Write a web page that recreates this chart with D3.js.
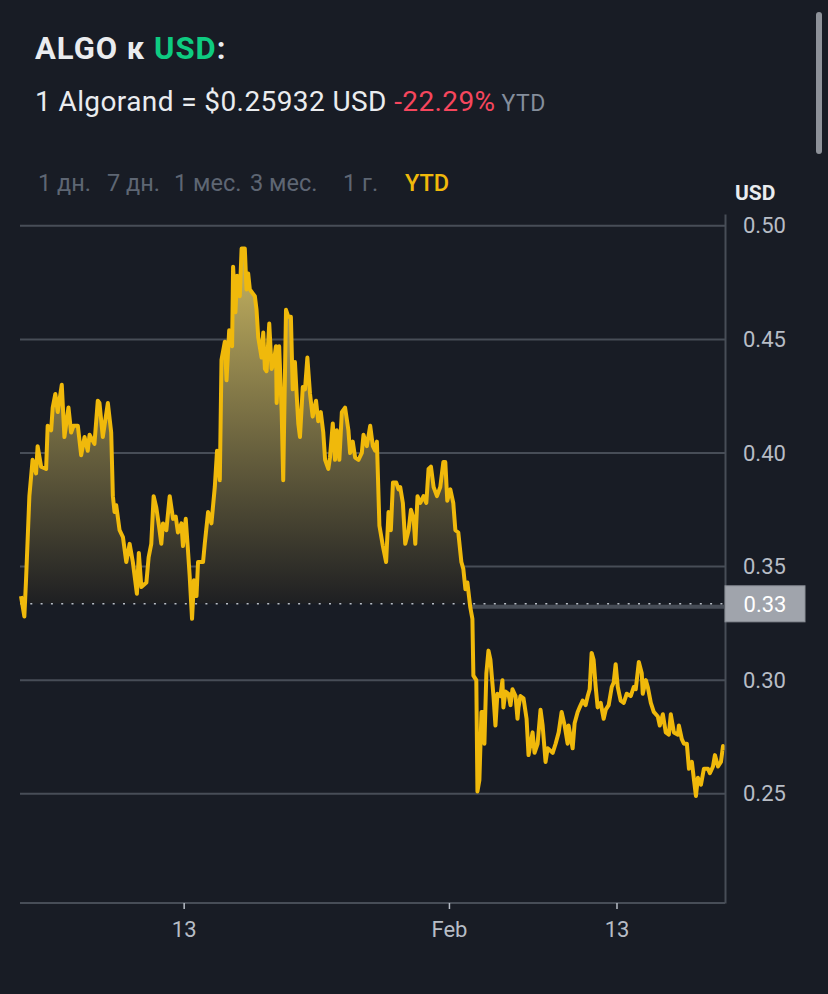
<!DOCTYPE html>
<html lang="ru">
<head>
	<meta charset="utf-8">
	<title>ALGO к USD</title>
	<script src="https://cdn.jsdelivr.net/npm/d3@7/dist/d3.min.js"></script>
	<style>
		html, body { margin: 0; padding: 0; background: #181c25; }
		svg { display: block; font-family: Roboto, "Noto Sans", sans-serif; }
	</style>
</head>
<body>
<div id="chart"></div>
<script type="text/javascript">

	// ---- data ----
	// days since 1 Jan 2025 (UTC)
	var dayOffsets = [0.35,0.59,0.71,0.95,1.18,1.43,1.54,1.79,2.15,2.26,2.51,2.62,2.81,2.98,3.27,3.46,3.75,3.94,4.11,4.42,4.66,4.90,5.13,5.26,5.61,5.85,5.97,6.21,6.57,6.81,6.93,7.05,7.17,7.41,7.65,7.89,8.13,8.36,8.65,8.79,8.97,9.33,9.49,9.68,9.85,10.04,10.23,10.40,10.52,10.76,11.00,11.24,11.43,11.59,11.84,11.95,12.15,12.31,12.43,12.60,12.74,12.92,13.03,13.39,13.51,13.75,13.99,14.23,14.39,14.59,14.71,14.95,15.07,15.26,15.47,15.54,15.71,15.83,16.02,16.15,16.38,16.50,16.62,16.74,16.86,17.10,17.22,17.34,17.58,17.70,17.82,17.94,18.13,18.30,18.46,18.61,18.66,18.84,19.02,19.13,19.33,19.49,19.68,19.81,19.97,20.09,20.21,20.33,20.53,20.69,20.86,21.05,21.24,21.48,21.64,21.82,22.00,22.13,22.36,22.48,22.68,22.84,22.97,23.15,23.33,23.56,23.80,23.92,24.11,24.28,24.52,24.76,24.88,25.12,25.36,25.55,25.72,25.84,26.02,26.27,26.50,26.67,26.84,26.99,27.22,27.39,27.51,27.70,27.87,28.11,28.28,28.47,28.59,28.75,28.95,29.18,29.38,29.54,29.71,29.90,30.14,30.38,30.60,30.74,30.88,31.10,31.31,31.46,31.67,31.89,32.03,32.18,32.32,32.53,32.68,32.75,32.96,33.04,33.18,33.33,33.47,33.54,33.68,33.83,33.97,34.19,34.33,34.47,34.69,34.83,34.90,35.05,35.26,35.41,35.55,35.77,35.91,35.98,36.12,36.34,36.56,36.70,36.99,37.13,37.35,37.56,37.71,37.92,38.07,38.43,38.64,38.86,39.07,39.29,39.50,39.57,39.86,40.00,40.22,40.36,40.58,40.79,40.94,41.08,41.22,41.36,41.51,41.65,41.87,42.08,42.23,42.44,42.66,42.80,42.94,43.09,43.30,43.52,43.73,44.02,44.24,44.38,44.60,44.81,44.88,45.10,45.24,45.46,45.67,45.96,46.10,46.32,46.53,46.75,46.89,47.11,47.40,47.47,47.68,47.83,48.04,48.19,48.40,48.55,48.69,48.83,49.05,49.26,49.55,49.69,49.91,50.05,50.27,50.48,50.63,50.70];

	// ALGO price in USD
	var prices = [0.337,0.328,0.344,0.381,0.397,0.391,0.403,0.394,0.393,0.412,0.410,0.420,0.426,0.418,0.430,0.407,0.420,0.409,0.412,0.412,0.399,0.407,0.401,0.408,0.404,0.423,0.422,0.407,0.422,0.409,0.381,0.374,0.377,0.366,0.363,0.352,0.360,0.352,0.338,0.356,0.341,0.343,0.354,0.360,0.381,0.376,0.368,0.360,0.369,0.366,0.381,0.371,0.372,0.365,0.369,0.359,0.371,0.357,0.346,0.327,0.344,0.337,0.352,0.352,0.360,0.374,0.369,0.385,0.401,0.388,0.441,0.449,0.432,0.454,0.447,0.482,0.462,0.478,0.469,0.490,0.490,0.472,0.479,0.472,0.471,0.469,0.463,0.451,0.442,0.453,0.437,0.436,0.457,0.437,0.440,0.447,0.422,0.447,0.418,0.388,0.463,0.460,0.460,0.428,0.440,0.426,0.413,0.407,0.429,0.428,0.442,0.426,0.416,0.423,0.414,0.418,0.409,0.397,0.393,0.398,0.413,0.397,0.410,0.397,0.418,0.420,0.410,0.400,0.405,0.398,0.397,0.400,0.408,0.403,0.412,0.403,0.401,0.405,0.368,0.359,0.352,0.374,0.366,0.387,0.387,0.384,0.385,0.378,0.360,0.366,0.375,0.371,0.360,0.381,0.378,0.381,0.378,0.393,0.394,0.385,0.381,0.385,0.396,0.396,0.379,0.384,0.378,0.366,0.365,0.352,0.349,0.340,0.343,0.332,0.327,0.302,0.300,0.251,0.256,0.286,0.286,0.272,0.303,0.313,0.309,0.293,0.280,0.294,0.293,0.300,0.288,0.295,0.294,0.289,0.296,0.293,0.283,0.288,0.293,0.292,0.283,0.267,0.277,0.268,0.272,0.287,0.280,0.264,0.270,0.268,0.272,0.277,0.286,0.280,0.272,0.280,0.270,0.281,0.286,0.288,0.291,0.289,0.293,0.296,0.312,0.309,0.297,0.288,0.290,0.283,0.287,0.289,0.297,0.299,0.307,0.297,0.291,0.290,0.294,0.293,0.297,0.296,0.308,0.303,0.294,0.300,0.297,0.290,0.286,0.284,0.280,0.285,0.277,0.276,0.285,0.277,0.276,0.280,0.274,0.272,0.272,0.261,0.264,0.256,0.249,0.257,0.254,0.261,0.261,0.259,0.262,0.267,0.262,0.264,0.271,0.269];

	// opening price of the year (dotted reference line)
	var openPrice = 0.3336;

	var yTicks = [0.25, 0.30, 0.35, 0.40, 0.45, 0.50];
	var xTickDays = [12, 31, 43];          // 13 Jan, 1 Feb, 13 Feb
	var xTickLabels = ["13", "Feb", "13"];

	var periods = ["1 дн.", "7 дн.", "1 мес.", "3 мес.", "1 г.", "YTD"];
	var activePeriod = "YTD";

	var pair = "ALGO", quote = "USD";
	var spotText = "1 Algorand = $0.25932 USD";
	var changeText = "-22.29%";

	// ---- layout ----
	var width = 828, height = 994;
	var plot = {left: 20, right: 725, top: 214, bottom: 903};

	var t0 = Date.UTC(2025, 0, 1);
	function toDate(d) { return new Date(t0 + d * 86400000); }

	var data = dayOffsets.map(function(d, i) {
		return {date: toDate(d), price: prices[i]};
	});

	var svg = d3.select("#chart")
		.append("svg")
		.attr("width", width)
		.attr("height", height);

	svg.append("rect")
		.attr("width", width).attr("height", height)
		.attr("fill", "#181c25");

	// scales
	var xScale = d3.scaleUtc()
		.domain(d3.extent(data, function(d) { return d.date; }))
		.range([plot.left + 1, plot.right - 1]);

	var yScale = d3.scaleLinear()
		.domain([0.2019, 0.5052])
		.range([plot.bottom, plot.top]);

	// ---- header ----
	var title = svg.append("text")
		.attr("x", 35).attr("y", 59)
		.attr("font-size", 31).attr("font-weight", 700)
		.attr("letter-spacing", 1)
		.attr("fill", "#eaecef");
	title.append("tspan").text(pair + " к ");
	title.append("tspan").attr("fill", "#0ecb81").text(quote);
	title.append("tspan").text(":");

	var sub = svg.append("text")
		.attr("x", 35).attr("y", 111)
		.attr("font-size", 28)
		.attr("letter-spacing", 0.4)
		.attr("fill", "#eaecef");
	sub.append("tspan").text(spotText + " ");
	sub.append("tspan").attr("fill", "#f6465d").text(changeText);
	sub.append("tspan").attr("fill", "#848e9c").attr("font-size", 23).text(" YTD");

	// period buttons
	var periodPos = {"1 дн.": 38, "7 дн.": 107, "1 мес.": 174, "3 мес.": 250, "1 г.": 343, "YTD": 405};
	svg.append("g").selectAll("text")
		.data(periods)
		.enter().append("text")
		.attr("x", function(d) { return periodPos[d]; })
		.attr("y", 191)
		.attr("font-size", 23.5)
		.attr("font-weight", function(d) { return d === activePeriod ? 500 : 400; })
		.attr("fill", function(d) { return d === activePeriod ? "#f0b90b" : "#5e6673"; })
		.text(function(d) { return d; });

	// scrollbar
	svg.append("rect")
		.attr("x", 816).attr("y", 12)
		.attr("width", 6).attr("height", 142)
		.attr("rx", 3)
		.attr("fill", "#8d9199");

	// ---- grid ----
	svg.append("g").selectAll("line")
		.data(yTicks)
		.enter().append("line")
		.attr("x1", plot.left).attr("x2", plot.right)
		.attr("y1", function(d) { return yScale(d); })
		.attr("y2", function(d) { return yScale(d); })
		.attr("stroke", "#474d57")
		.attr("stroke-width", 2);

	// ---- area above the opening price ----
	var defs = svg.append("defs");
	var grad = defs.append("linearGradient")
		.attr("id", "fillGrad")
		.attr("gradientUnits", "userSpaceOnUse")
		.attr("x1", 0).attr("x2", 0)
		.attr("y1", yScale(0.5)).attr("y2", yScale(openPrice));
	grad.append("stop").attr("offset", "0%").attr("stop-color", "rgb(212,192,102)");
	grad.append("stop").attr("offset", "100%").attr("stop-color", "rgb(30,31,34)");

	defs.append("clipPath").attr("id", "aboveOpen")
		.append("rect")
		.attr("x", plot.left).attr("y", plot.top)
		.attr("width", plot.right - plot.left)
		.attr("height", yScale(openPrice) - plot.top);

	var area = d3.area()
		.x(function(d) { return xScale(d.date); })
		.y0(yScale(openPrice))
		.y1(function(d) { return yScale(d.price); });

	svg.append("path")
		.datum(data)
		.attr("clip-path", "url(#aboveOpen)")
		.attr("fill", "url(#fillGrad)")
		.attr("d", area);

	// grey bar where price sits below the opening price
	var lastAbove = d3.max(data, function(d, i) { return d.price >= openPrice ? i : -1; });
	svg.append("line")
		.attr("x1", xScale(data[lastAbove].date) + 4)
		.attr("x2", xScale(data[data.length - 1].date))
		.attr("y1", yScale(openPrice) + 3)
		.attr("y2", yScale(openPrice) + 3)
		.attr("stroke", "#474d57")
		.attr("stroke-width", 4);

	// dotted opening-price line
	svg.append("line")
		.attr("x1", plot.left).attr("x2", plot.right)
		.attr("y1", yScale(openPrice)).attr("y2", yScale(openPrice))
		.attr("stroke", "#b7bdc6")
		.attr("stroke-width", 1.5)
		.attr("stroke-dasharray", "2,8.3");

	// ---- price line ----
	var line = d3.line()
		.x(function(d) { return xScale(d.date); })
		.y(function(d) { return yScale(d.price); });

	svg.append("path")
		.datum(data)
		.attr("fill", "none")
		.attr("stroke", "#f0b90b")
		.attr("stroke-width", 4)
		.attr("stroke-linejoin", "round")
		.attr("d", line);

	// ---- axes ----
	var yAxis = d3.axisRight(yScale)
		.tickValues(yTicks)
		.tickFormat(d3.format(".2f"))
		.tickSize(0)
		.tickPadding(18);

	var gy = svg.append("g")
		.attr("transform", "translate(" + plot.right + ",0)")
		.call(yAxis);
	gy.select(".domain").attr("stroke", "#474d57").attr("stroke-width", 2);
	gy.selectAll("text")
		.attr("font-family", "Roboto, sans-serif")
		.attr("font-size", 22)
		.attr("fill", "#b7bdc6");

	var xAxis = d3.axisBottom(xScale)
		.tickValues(xTickDays.map(toDate))
		.tickFormat(function(d, i) { return xTickLabels[i]; })
		.tickSizeOuter(0)
		.tickSizeInner(6)
		.tickPadding(12);

	var gx = svg.append("g")
		.attr("transform", "translate(0," + plot.bottom + ")")
		.call(xAxis);
	gx.select(".domain")
		.attr("d", "M" + plot.left + ",0H" + plot.right)
		.attr("stroke", "#474d57").attr("stroke-width", 2);
	gx.selectAll(".tick line").attr("stroke", "#b7bdc6").attr("stroke-width", 1.5);
	gx.selectAll("text")
		.attr("font-family", "Roboto, sans-serif")
		.attr("font-size", 22)
		.attr("fill", "#b7bdc6");

	// axis unit header
	svg.append("text")
		.attr("x", 735).attr("y", 200)
		.attr("font-size", 21).attr("font-weight", 700)
		.attr("fill", "#eaecef")
		.text(quote);

	// opening price tag
	var tagY = yScale(openPrice);
	svg.append("rect")
		.attr("x", plot.right).attr("y", tagY - 18)
		.attr("width", 80).attr("height", 36)
		.attr("fill", "#a0a4ac")
		.attr("stroke", "#8a8e96");
	svg.append("text")
		.attr("x", plot.right + 40).attr("y", tagY)
		.attr("dy", "0.35em")
		.attr("text-anchor", "middle")
		.attr("font-size", 22)
		.attr("fill", "#ffffff")
		.text(d3.format(".2f")(openPrice));

</script>
</body>
</html>
